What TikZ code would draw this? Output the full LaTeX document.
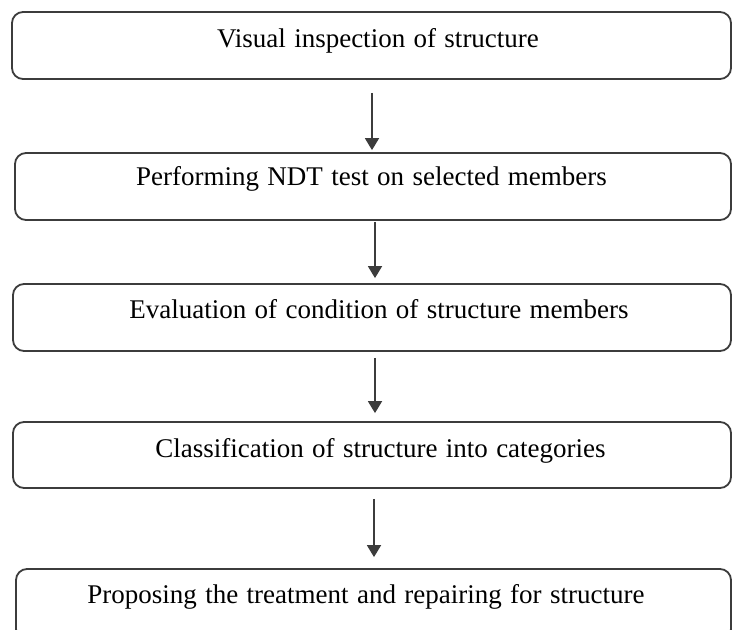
\documentclass[tikz,border=0pt]{standalone}
\usepackage{fontspec}
\setmainfont{Liberation Serif}
\usetikzlibrary{arrows.meta}
\definecolor{edge}{HTML}{3C3C3C}
\newcommand{\mylblfont}{\fontsize{27}{31}\selectfont\spaceskip=0.31em plus 0.1em minus 0.05em\relax}
\tikzset{
  box/.style={draw=edge, line width=1.8pt, rounded corners=11pt, inner sep=0pt},
  lbl/.style={anchor=base, inner sep=0pt, font=\mylblfont, text=black},
  arr/.style={draw=edge, line width=1.8pt, -{Triangle[length=12pt,width=14pt]}},
}
\begin{document}
\begin{tikzpicture}[x=1pt,y=-1pt]
\useasboundingbox (0,0) rectangle (732,630);
\clip (0,0) rectangle (732,630);
\node[box, minimum width=719pt, minimum height=67pt] (b1) at (371.5,45.5) {};
\node[box, minimum width=716pt, minimum height=67pt] (b2) at (373,186.5) {};
\node[box, minimum width=718pt, minimum height=67pt] (b3) at (372,317.5) {};
\node[box, minimum width=718pt, minimum height=66pt] (b4) at (372,455) {};
\node[box, minimum width=715pt, minimum height=71pt] (b5) at (373.5,604.5) {};
\node[lbl] (t1) at (378,47) {Visual inspection of structure};
\node[lbl] (t2) at (371.5,185) {Performing NDT test on selected members};
\node[lbl] (t3) at (379,318) {Evaluation of condition of structure members};
\node[lbl] (t4) at (380.5,457) {Classification of structure into categories};
\node[lbl] (t5) at (366,603) {Proposing the treatment and repairing for structure};
\coordinate (xa) at (372,0);
\coordinate (xb) at (375,0);
\coordinate (xc) at (374,0);
\draw[arr, shorten <=13pt, shorten >=2pt] (b1.south -| xa) -- (b2.north -| xa);
\draw[arr, shorten <=1pt, shorten >=5pt] (b2.south -| xb) -- (b3.north -| xb);
\draw[arr, shorten <=6pt, shorten >=8pt] (b3.south -| xb) -- (b4.north -| xb);
\draw[arr, shorten <=10pt, shorten >=11pt] (b4.south -| xc) -- (b5.north -| xc);
\end{tikzpicture}
\end{document}
